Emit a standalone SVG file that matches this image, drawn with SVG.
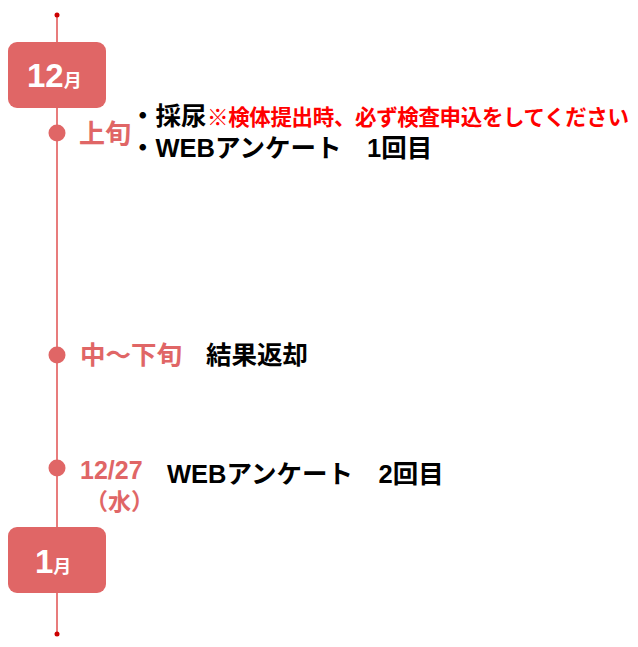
<svg xmlns="http://www.w3.org/2000/svg" width="638" height="647" viewBox="0 0 638 647">
<style>
.ln{stroke:#e87c7c;stroke-width:2;fill:none}
.end{fill:#cc0000}
.box{fill:#e06666}
.dot{fill:#e06666}
.t{font-family:"Liberation Sans","Noto Sans CJK JP",sans-serif;font-weight:bold}
.w{fill:#ffffff}
.p{fill:#e06666}
.k{fill:#000000}
.r{fill:#ff0000}
</style>
<rect width="638" height="647" fill="#ffffff"/>
<g id="connectors">
<line class="ln" x1="57" y1="15" x2="57" y2="634"/>
<circle class="end" cx="57" cy="15" r="2.5"/>
<circle class="end" cx="57" cy="634" r="2.5"/>
</g>
<g id="dec">
<rect class="box" x="8" y="42" width="98" height="66" rx="9"/>
<text class="t w" x="27" y="87" font-size="33">12<tspan font-size="18">月</tspan></text>
</g>
<g id="early">
<circle class="dot" cx="57" cy="133" r="8.5"/>
<text class="t p" x="79" y="143" font-size="26">上旬</text>
<text class="t k" x="130" y="125" font-size="25.5">・採尿</text>
<text class="t r" x="207" y="125" font-size="21.5" textLength="422" lengthAdjust="spacing">※検体提出時、必ず検査申込をしてください</text>
<text class="t k" x="130" y="157" font-size="25.5">・WEBアンケート　1回目</text>
</g>
<g id="mid">
<circle class="dot" cx="57" cy="355" r="8.5"/>
<text class="t p" x="80" y="364" font-size="25.5">中～下旬</text>
<text class="t k" x="206" y="364" font-size="25.5">結果返却</text>
</g>
<g id="d1227">
<circle class="dot" cx="57" cy="468" r="8.5"/>
<text class="t p" x="80" y="479" font-size="25">12/27</text>
<text class="t p" x="85" y="510" font-size="23">（水）</text>
<text class="t k" x="167" y="483" font-size="25.5">WEBアンケート　2回目</text>
</g>
<g id="jan">
<rect class="box" x="8" y="527" width="98" height="66" rx="9"/>
<text class="t w" x="35" y="573" font-size="33">1<tspan font-size="18">月</tspan></text>
</g>
</svg>
